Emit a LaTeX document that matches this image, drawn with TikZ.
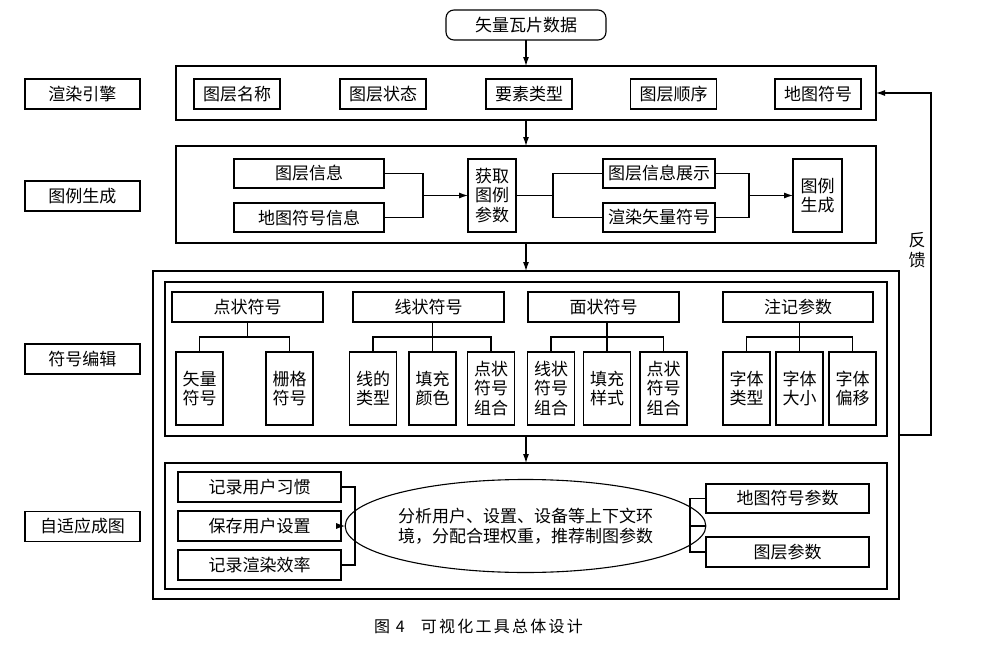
\documentclass[tikz,border=0pt]{standalone}
\usepackage{fontspec}
\setmainfont{Noto Sans CJK SC}
\newfontfamily\capfont[LetterSpace=14]{Noto Sans CJK SC}
\usetikzlibrary{arrows.meta,calc,shapes.geometric}
\begin{document}
\begin{tikzpicture}[x=1pt,y=-1pt,
  bx/.style={draw,line width=1.1pt,inner sep=0pt,outer sep=0pt,align=center,
    font=\fontsize{17}{19.5}\selectfont},
  ln/.style={line width=1.1pt},
  arr/.style={line width=1.1pt,-{Latex[length=9pt,width=6pt]}},
  cat/.style={bx,minimum width=151pt,minimum height=30pt},
  leaf/.style={bx,minimum width=47pt,minimum height=73pt},
  sub/.style={bx,minimum width=86pt,minimum height=30pt},
  lab/.style={bx,minimum width=115pt,minimum height=30pt}]
\useasboundingbox (0,0) rectangle (989,645);

% top
\node[bx,rounded corners=8pt,minimum width=160pt,minimum height=30pt] (t) at (526,25) {矢量瓦片数据};

% left labels
\node[lab] (L1) at (82.5,94) {渲染引擎};
\node[lab] (L2) at (82.5,196) {图例生成};
\node[lab] (L3) at (82.5,359) {符号编辑};
\node[lab] (L4) at (82.5,526.5) {自适应成图};

% row 1
\node[bx,minimum width=700pt,minimum height=54pt] (r1) at (526,93) {};
\node[sub] (n11) at (237,94) {图层名称};
\node[sub] (n12) at (383,94) {图层状态};
\node[sub] (n13) at (529,94) {要素类型};
\node[sub] (n14) at (673.5,94) {图层顺序};
\node[sub] (n15) at (818,94) {地图符号};

% row 2
\node[bx,minimum width=700pt,minimum height=97pt] (r2) at (526,194.5) {};
\node[bx,minimum width=150pt,minimum height=29pt] (a1) at (309,173.5) {图层信息};
\node[bx,minimum width=150pt,minimum height=29pt] (a2) at (309,217.5) {地图符号信息};
\node[bx,minimum width=48pt,minimum height=73pt] (a3) at (492,195.5) {获取\\图例\\参数};
\node[bx,minimum width=112pt,minimum height=29pt] (a4) at (659,173.5) {图层信息展示};
\node[bx,minimum width=112pt,minimum height=29pt] (a5) at (659,217.5) {渲染矢量符号};
\node[bx,minimum width=49pt,minimum height=73pt] (a6) at (817.5,195.5) {图例\\生成};
\coordinate (j1) at (423,195.5);
\coordinate (j2) at (553,195.5);
\coordinate (j3) at (749,195.5);
\draw[ln] (a1.east) -| (j1);
\draw[ln] (a2.east) -| (j1);
\draw[arr] (j1) -- (a3.west);
\draw[ln] (a3.east) -- (j2);
\draw[ln] (j2) |- (a4.west);
\draw[ln] (j2) |- (a5.west);
\draw[ln] (a4.east) -| (j3);
\draw[ln] (a5.east) -| (j3);
\draw[arr] (j3) -- (a6.west);

% row 3 / 4 outer
\node[bx,minimum width=746pt,minimum height=328pt] (r3) at (526,435) {};
\node[bx,minimum width=722pt,minimum height=154pt] (r3a) at (526,359) {};
\node[bx,minimum width=722pt,minimum height=126pt] (r3b) at (526,526) {};

% symbol editing
\node[cat] (p) at (247.5,307) {点状符号};
\node[cat] (l) at (428.5,307) {线状符号};
\node[cat] (m) at (603.5,307) {面状符号};
\node[bx,minimum width=150pt,minimum height=30pt] (z) at (798,307) {注记参数};
\node[leaf] (p1) at (199.5,388.5) {矢量\\符号};
\node[leaf] (p2) at (289.5,388.5) {栅格\\符号};
\node[leaf] (l1) at (373,388.5) {线的\\类型};
\node[leaf] (l2) at (432.5,388.5) {填充\\颜色};
\node[leaf] (l3) at (491,388.5) {点状\\符号\\组合};
\node[leaf] (m1) at (551,388.5) {线状\\符号\\组合};
\node[leaf] (m2) at (607,388.5) {填充\\样式};
\node[leaf] (m3) at (663.5,388.5) {点状\\符号\\组合};
\node[leaf] (z1) at (746.5,388.5) {字体\\类型};
\node[leaf] (z2) at (799.5,388.5) {字体\\大小};
\node[leaf] (z3) at (852.5,388.5) {字体\\偏移};
\draw[ln] (p.south) -- ++(0,15);
\draw[ln] (p1.north) -- ++(0,-15) -| (p2.north);
\draw[ln] (l1.north) -- ++(0,-15) -| (l3.north);
\draw[ln] (l2.north) -- (l2.north |- l.south);
\draw[ln] (m1.north) -- ++(0,-15) -| (m3.north);
\draw[ln] (m2.north) -- (m2.north |- m.south);
\draw[ln] (z1.north) -- ++(0,-15) -| (z3.north);
\draw[ln] (z2.north) -- (z2.north |- z.south);

% adaptive
\node[bx,minimum width=163pt,minimum height=30pt] (b1) at (259.5,487) {记录用户习惯};
\node[bx,minimum width=163pt,minimum height=30pt] (b2) at (259.5,526) {保存用户设置};
\node[bx,minimum width=163pt,minimum height=30pt] (b3) at (259.5,565) {记录渲染效率};
\node[bx,ellipse,minimum width=307pt,minimum height=93pt] (e) at (525.5,526)
  {分析用户、设置、设备等上下文环\\境，分配合理权重，推荐制图参数};
\node[bx,minimum width=163pt,minimum height=29pt] (c1) at (787.5,498.5) {地图符号参数};
\node[bx,minimum width=163pt,minimum height=30pt] (c2) at (787.5,552) {图层参数};
\coordinate (jb) at (355,526);
\coordinate (jc) at (690,526);
\draw[ln] (b1.east) -| (jb);
\draw[ln] (b3.east) -| (jb);
\draw[arr] (b2.east) -- (e.west);
\draw[ln] (e.east) -- (jc);
\draw[ln] (jc) |- (c1.west);
\draw[ln] (jc) |- (c2.west);

% main flow arrows
\draw[arr] (t.south) -- (r1.north);
\draw[arr] (r1.south) -- (r2.north);
\draw[arr] (r2.south) -- (r3.north);
\draw[arr] (r3a.south) -- (r3b.north);

% feedback
\draw[arr] (r3.east) -- ++(32,0) |- (r1.east);
\node[align=center,font=\fontsize{17}{19.5}\selectfont] (fb) at (917,250) {反\\馈};

% caption
\node[font=\fontsize{16}{18}\capfont] (cap) at (478.5,626) {图 4\quad 可视化工具总体设计};
\end{tikzpicture}
\end{document}
